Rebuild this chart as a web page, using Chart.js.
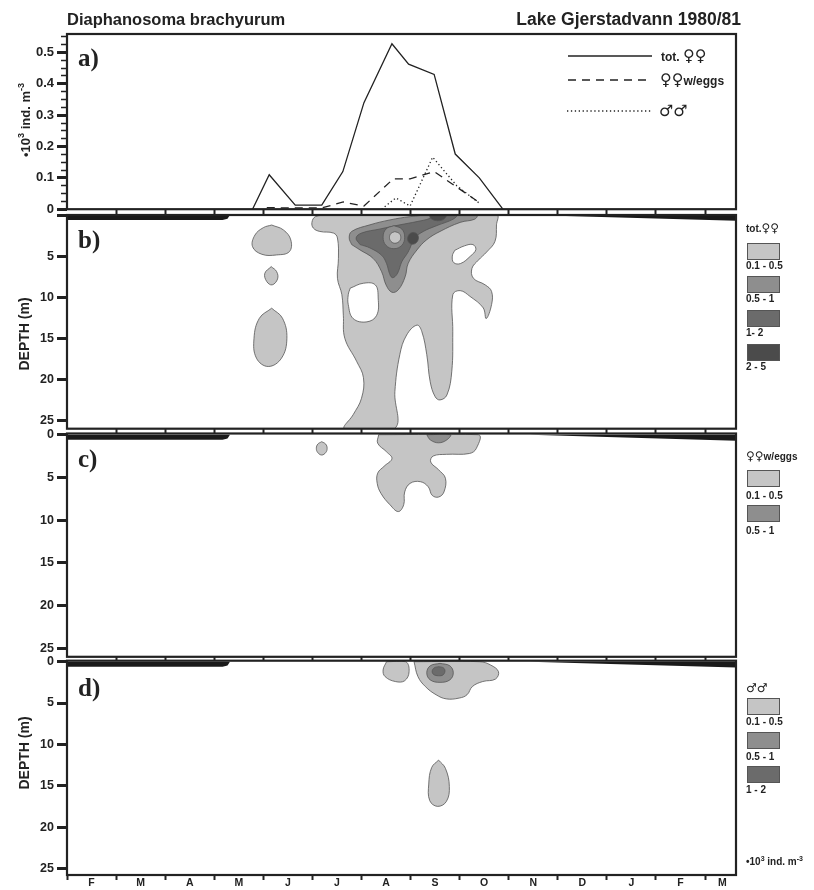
<!DOCTYPE html>
<html>
<head>
<meta charset="utf-8">
<script src="https://cdn.jsdelivr.net/npm/chart.js@4.4.1/dist/chart.umd.min.js"></script>
<style>
  body { margin: 0; background: #fff; }
  #page { position: relative; width: 814px; height: 890px; overflow: hidden;
    font-family: "Liberation Sans", "DejaVu Sans", Arial, sans-serif; color: #222; }
  canvas { position: absolute; left: 0; }
  .txt { position: absolute; white-space: nowrap; font-weight: bold; }
  .sym { font-family: "DejaVu Sans", sans-serif; }
  .panel { position: absolute; font-family: "Liberation Serif", "DejaVu Serif", serif;
    font-weight: bold; font-size: 25px; line-height: 26px; }
  .ytitle { position: absolute; font-weight: bold; white-space: nowrap;
    transform: translate(-50%, -50%) rotate(-90deg); }
  .box { position: absolute; left: 747px; width: 31px; height: 15px; border: 1px solid #555; }
  .lab { position: absolute; left: 746px; font-size: 10px; line-height: 12px; font-weight: bold; white-space: nowrap; }
  sup { font-size: 70%; line-height: 0; }
</style>
</head>
<body>
<div id="page">
  <canvas id="chartA" width="814" height="220" style="top:0px"></canvas>
  <canvas id="chartB" width="814" height="240" style="top:200px"></canvas>
  <canvas id="chartC" width="814" height="250" style="top:420px"></canvas>
  <canvas id="chartD" width="814" height="240" style="top:650px"></canvas>

  <div class="txt" style="left:67px;top:9px;font-size:16.5px;line-height:20px">Diaphanosoma brachyurum</div>
  <div class="txt" style="right:73px;top:9px;font-size:17.5px;line-height:20px">Lake Gjerstadvann 1980/81</div>

  <div class="panel" style="left:78px;top:45px">a)</div>
  <div class="panel" style="left:78px;top:227px">b)</div>
  <div class="panel" style="left:78px;top:446px">c)</div>
  <div class="panel" style="left:78px;top:675px">d)</div>

  <div class="ytitle" style="left:25px;top:120px;font-size:13px">&bull;10<sup>3</sup> ind. m<sup>-3</sup></div>
  <div class="ytitle" style="left:24px;top:334px;font-size:14px">DEPTH (m)</div>
  <div class="ytitle" style="left:24px;top:753px;font-size:14px">DEPTH (m)</div>

  <!-- legend of the line panel -->
  <svg width="814" height="140" style="position:absolute;left:0;top:0">
    <line x1="568" y1="56" x2="652" y2="56" stroke="#222" stroke-width="1.5"/>
    <line x1="568" y1="80" x2="652" y2="80" stroke="#222" stroke-width="1.5" stroke-dasharray="8 6"/>
    <line x1="567" y1="111" x2="651" y2="111" stroke="#222" stroke-width="1.3" stroke-dasharray="1.3 2.6"/>
  </svg>
  <div class="txt" style="left:661px;top:46px;font-size:12px;line-height:20px">tot. <span class="sym" style="font-size:16px">♀♀</span></div>
  <div class="txt" style="left:660px;top:70px;font-size:12px;line-height:20px"><span class="sym" style="font-size:16px">♀♀</span>w/eggs</div>
  <div class="txt" style="left:659px;top:101px;font-size:12px;line-height:20px"><span class="sym" style="font-size:16px">♂♂</span></div>

  <!-- contour legends -->
  <div class="lab" style="top:222px">tot.<span class="sym" style="font-size:12px">♀♀</span></div>
  <div class="box" style="top:243px;background:#c5c5c5"></div>
  <div class="lab" style="top:260px">0.1 - 0.5</div>
  <div class="box" style="top:276px;background:#8e8e8e"></div>
  <div class="lab" style="top:293px">0.5 - 1</div>
  <div class="box" style="top:310px;background:#6b6b6b"></div>
  <div class="lab" style="top:327px">1- 2</div>
  <div class="box" style="top:344px;background:#4b4b4b"></div>
  <div class="lab" style="top:361px">2 - 5</div>

  <div class="lab" style="top:450px"><span class="sym" style="font-size:12px">♀♀</span>w/eggs</div>
  <div class="box" style="top:470px;background:#c5c5c5"></div>
  <div class="lab" style="top:490px">0.1 - 0.5</div>
  <div class="box" style="top:505px;background:#8e8e8e"></div>
  <div class="lab" style="top:525px">0.5 - 1</div>

  <div class="lab" style="top:682px"><span class="sym" style="font-size:12px">♂♂</span></div>
  <div class="box" style="top:698px;background:#c5c5c5"></div>
  <div class="lab" style="top:716px">0.1 - 0.5</div>
  <div class="box" style="top:732px;background:#8e8e8e"></div>
  <div class="lab" style="top:751px">0.5 - 1</div>
  <div class="box" style="top:766px;background:#6b6b6b"></div>
  <div class="lab" style="top:784px">1 - 2</div>
  <div class="lab" style="top:856px">&bull;10<sup>3</sup> ind. m<sup>-3</sup></div>
</div>

<script>
// time axis: months counted from 1 Feb 1980
var monthLabels = ['F', 'M', 'A', 'M', 'J', 'J', 'A', 'S', 'O', 'N', 'D', 'J', 'F', 'M'];
var monthLabelPos = [0.5, 1.5, 2.5, 3.5, 4.5, 5.5, 6.5, 7.5, 8.5, 9.5, 10.5, 11.5, 12.5, 13.35];
var monthTicks = [1, 2, 3, 4, 5, 6, 7, 8, 9, 10, 11, 12, 13];
var monthTicksBottom = [0, 1, 2, 3, 4, 5, 6, 7, 8, 9, 10, 11, 12, 13];
var xMax = 13.63;

var densTicks = [0, 0.025, 0.05, 0.075, 0.1, 0.125, 0.15, 0.175, 0.2, 0.225, 0.25, 0.275,
  0.3, 0.325, 0.35, 0.375, 0.4, 0.425, 0.45, 0.475, 0.5, 0.525, 0.55];
var depthTicks = [0, 5, 10, 15, 20, 25];

// a) whole water column, 10^3 ind. m-3
var totDates = [3.78, 4.12, 4.65, 5.19, 5.62, 6.05, 6.62, 6.96, 7.48, 7.91, 8.40, 8.88];
var totFemales = [0, 0.11, 0.013, 0.013, 0.12, 0.34, 0.528, 0.463, 0.43, 0.176, 0.10, 0];
var eggDates = [4.07, 4.65, 5.19, 5.63, 6.05, 6.65, 6.99, 7.48, 7.90, 8.43];
var eggFemales = [0.005, 0.004, 0.004, 0.023, 0.01, 0.097, 0.097, 0.12, 0.075, 0.018];
var maleDates = [6.41, 6.70, 6.99, 7.45, 7.94, 8.41];
var males = [0, 0.036, 0.01, 0.166, 0.075, 0.018];

// ice cover (thickness in m)
var iceSpring = [[0, 0.6], [3.17, 0.6], [3.27, 0.45], [3.32, 0]];
var iceWinter = [[9.43, 0], [13.63, 0.7]];

var levelColors = ['#c5c5c5', '#8e8e8e', '#6b6b6b', '#4b4b4b'];

// b) tot. females, isolines [month, depth]
var bLowA = [[4.17, 1.22], [4.41, 1.82], [4.56, 3.04], [4.53, 4.46], [4.27, 4.86], [3.97, 4.78], [3.78, 3.85], [3.83, 2.43], [4.00, 1.54]];
var bLowB = [[4.16, 6.28], [4.27, 6.88], [4.29, 7.78], [4.18, 8.5], [4.07, 8.1], [4.03, 7.1]];
var bLowC = [[4.17, 11.34], [4.39, 12.56], [4.48, 14.99], [4.37, 17.42], [4.10, 18.43], [3.86, 17.42], [3.81, 14.99], [3.92, 12.56]];
var bLowMain = [[5.29, 0], [5.06, 0.2], [4.99, 0.9], [5.02, 1.6], [5.15, 2.0], [5.43, 2.2], [5.51, 2.8], [5.53, 5.3],
  [5.51, 7.7], [5.60, 9.7], [5.63, 12.2], [5.66, 15.0], [5.90, 17.8], [6.04, 19.8], [6.00, 22.3], [5.83, 24.3],
  [5.66, 26], [6.67, 26], [6.68, 21.5], [6.78, 17.0], [6.92, 14.6], [7.13, 13.4], [7.23, 14.2], [7.33, 17.0],
  [7.40, 20.3], [7.50, 22.1], [7.60, 22.5], [7.74, 21.9], [7.84, 19.0], [7.86, 14.2], [7.86, 9.7], [8.01, 9.2],
  [8.21, 9.9], [8.48, 11.3], [8.54, 12.6], [8.65, 10.9], [8.65, 9.3], [8.52, 8.5], [8.28, 7.7], [8.25, 6.5],
  [8.38, 5.5], [8.55, 4.5], [8.72, 3.2], [8.75, 1.2], [8.75, 0]];
var bHoleA = [[5.77, 8.9], [6.04, 8.3], [6.28, 8.5], [6.34, 10.1], [6.31, 12.2], [6.11, 13.0], [5.83, 12.6], [5.73, 10.9], [5.73, 9.7]];
var bHoleB = [[7.90, 4.3], [8.10, 3.75], [8.27, 3.6], [8.33, 4.2], [8.22, 5.0], [8.02, 5.9], [7.88, 5.8], [7.85, 5.0]];
var bMid = [[5.80, 3.6], [5.75, 2.8], [5.80, 2.0], [6.17, 1.2], [6.58, 0.6], [6.99, 0.2], [7.40, 0], [8.35, 0],
  [8.31, 0.5], [8.01, 0.9], [7.60, 2.0], [7.33, 3.0], [7.13, 4.25], [6.95, 5.9], [6.89, 7.5], [6.75, 9.1],
  [6.62, 9.4], [6.50, 8.5], [6.41, 6.9], [6.24, 5.3], [5.97, 4.25]];
var bHigh = [[5.97, 3.6], [5.89, 2.8], [6.00, 2.2], [6.38, 1.7], [6.78, 1.2], [7.13, 0.8], [7.40, 0.4], [7.46, 0],
  [7.94, 0], [7.87, 0.5], [7.53, 1.3], [7.26, 2.0], [7.09, 2.8], [6.95, 4.5], [6.82, 5.7], [6.75, 6.9],
  [6.68, 7.5], [6.62, 7.6], [6.57, 7.1], [6.51, 5.9], [6.41, 4.9], [6.17, 4.0]];
var bRing = [[6.66, 1.3], [6.82, 1.7], [6.88, 2.7], [6.82, 3.7], [6.66, 4.1], [6.50, 3.7], [6.44, 2.7], [6.50, 1.7]];
var bCore = [[6.68, 2.02], [6.77, 2.25], [6.80, 2.73], [6.77, 3.2], [6.68, 3.44], [6.60, 3.2], [6.57, 2.73], [6.60, 2.25]];
var bPeakA = [[7.05, 2.11], [7.13, 2.3], [7.16, 2.8], [7.12, 3.35], [7.03, 3.56], [6.96, 3.3], [6.94, 2.8], [6.98, 2.3]];
var bPeakB = [[7.38, 0], [7.42, 0.45], [7.55, 0.69], [7.68, 0.5], [7.72, 0]];

// c) females with eggs
var cLowA = [[5.19, 0.82], [5.27, 1.1], [5.30, 1.6], [5.27, 2.1], [5.19, 2.38], [5.11, 2.1], [5.08, 1.6], [5.11, 1.1]];
var cLowMain = [[6.35, 0], [6.33, 1.0], [6.51, 2.0], [6.62, 2.8], [6.46, 3.7], [6.33, 4.5], [6.32, 5.7], [6.40, 6.9],
  [6.58, 8.2], [6.75, 9.0], [6.86, 8.2], [6.88, 6.7], [6.99, 5.7], [7.20, 5.5], [7.36, 6.1], [7.44, 7.1],
  [7.57, 7.3], [7.68, 6.7], [7.71, 5.1], [7.57, 4.1], [7.41, 3.2], [7.46, 2.5], [7.73, 2.3], [8.20, 2.2],
  [8.34, 1.6], [8.38, 0]];
var cMid = [[7.33, 0], [7.40, 0.6], [7.57, 0.95], [7.74, 0.6], [7.81, 0]];

// d) males
var dLowA = [[6.51, 0], [6.90, 0], [6.97, 1.2], [6.88, 2.3], [6.69, 2.4], [6.48, 1.8], [6.44, 1.0]];
var dLowMain = [[7.07, 0], [7.15, 1.8], [7.30, 3.0], [7.52, 4.0], [7.73, 4.5], [7.99, 4.4], [8.15, 4.0], [8.26, 3.0],
  [8.47, 2.4], [8.73, 2.1], [8.79, 1.2], [8.63, 0.4], [8.41, 0]];
var dLowDeep = [[7.57, 11.9], [7.71, 12.9], [7.79, 15.1], [7.73, 16.9], [7.55, 17.5], [7.39, 16.8], [7.37, 14.8], [7.43, 12.8]];
var dMid = [[7.60, 0.2], [7.80, 0.5], [7.87, 1.35], [7.80, 2.2], [7.60, 2.5], [7.40, 2.2], [7.33, 1.35], [7.40, 0.5]];
var dHigh = [[7.57, 0.6], [7.67, 0.75], [7.70, 1.15], [7.66, 1.6], [7.57, 1.7], [7.47, 1.55], [7.44, 1.15], [7.48, 0.75]];

Chart.defaults.font.family = "'Liberation Sans', Arial, sans-serif";
Chart.defaults.color = '#222';

function pairs(xs, ys) {
  return xs.map(function (x, i) { return { x: x, y: ys[i] }; });
}

// closed isoline, filled with its class colour
function blob(pts, color) {
  var d = pts.map(function (p) { return { x: p[0], y: p[1] }; });
  d.push({ x: pts[0][0], y: pts[0][1] });
  return { data: d, fill: 'shape', backgroundColor: color, borderColor: '#555', borderWidth: 0.8,
    tension: 0.4, pointRadius: 0 };
}

function ice(pts) {
  return { data: pts.map(function (p) { return { x: p[0], y: p[1] }; }), fill: 'origin',
    backgroundColor: '#1a1a1a', borderWidth: 0, pointRadius: 0, tension: 0 };
}

// chart.js paints dataset 0 last, so list them bottom-up and flip
function layers(list) {
  return list.slice().reverse();
}

function fixWidth(s) { s.width = 67; }

// frame round the plot area
var framePlugin = {
  id: 'frame',
  afterDraw: function (chart) {
    var a = chart.chartArea, ctx = chart.ctx;
    ctx.save();
    ctx.strokeStyle = '#222';
    ctx.lineWidth = 2.2;
    ctx.strokeRect(a.left, a.top, a.right - a.left, a.bottom - a.top);
    ctx.restore();
  }
};

function monthAxis(pos, ticks, len, height) {
  return {
    type: 'linear', position: pos, min: 0, max: xMax,
    afterBuildTicks: function (s) { s.ticks = ticks.map(function (v) { return { value: v }; }); },
    afterFit: function (s) { s.height = height; },
    ticks: { display: false },
    grid: { drawOnChartArea: false, tickLength: len, tickWidth: 2, tickColor: '#222' },
    border: { display: false }
  };
}

function depthAxis(min, max, hideZero) {
  return {
    type: 'linear', reverse: true, min: min, max: max,
    afterFit: fixWidth,
    afterBuildTicks: function (s) { s.ticks = depthTicks.map(function (v) { return { value: v }; }); },
    ticks: {
      padding: 3, color: '#222', font: { size: 12.5, weight: 'bold' }, autoSkip: false,
      callback: function (v) { return (hideZero && v === 0) ? '' : String(v); }
    },
    grid: { drawOnChartArea: false, tickLength: 10, tickWidth: 3, tickColor: '#222' },
    border: { display: false }
  };
}

function isMajor(v) { return Math.abs(v * 10 - Math.round(v * 10)) < 1e-6; }

var common = {
  responsive: false, animation: false, events: [],
  plugins: { legend: { display: false }, tooltip: { enabled: false } }
};

function opts(padding, scales) {
  return Object.assign({}, common, { layout: { padding: padding }, scales: scales });
}

// a) numbers in the water column
new Chart(document.getElementById('chartA'), {
  type: 'line',
  data: {
    datasets: [
      { data: pairs(totDates, totFemales), borderColor: '#222', borderWidth: 1.3, pointRadius: 0, fill: false, tension: 0 },
      { data: pairs(eggDates, eggFemales), borderColor: '#222', borderWidth: 1.3, borderDash: [8, 6], pointRadius: 0, fill: false, tension: 0 },
      { data: pairs(maleDates, males), borderColor: '#222', borderWidth: 1.3, borderDash: [1.3, 2.6], pointRadius: 0, fill: false, tension: 0 }
    ]
  },
  options: opts({ top: 34, bottom: 6, left: 0, right: 78 }, {
    x: { type: 'linear', min: 0, max: xMax, display: false },
    y: {
      type: 'linear', min: 0, max: 0.559,
      afterFit: fixWidth,
      afterBuildTicks: function (s) { s.ticks = densTicks.map(function (v) { return { value: v }; }); },
      ticks: {
        padding: 3, color: '#222', font: { size: 13, weight: 'bold' }, autoSkip: false,
        callback: function (v) { return isMajor(v) ? (v === 0 ? '0' : v.toFixed(1)) : ''; }
      },
      grid: {
        drawOnChartArea: false, tickLength: 10, tickColor: '#222',
        tickWidth: function (c) { return isMajor(c.tick.value) ? 3 : 1.6; },
        tickBorderDash: function (c) { return isMajor(c.tick.value) ? [] : [0, 4, 6, 30]; }
      },
      border: { display: false }
    }
  }),
  plugins: [framePlugin]
});

// b) tot. females
new Chart(document.getElementById('chartB'), {
  type: 'line',
  data: {
    datasets: layers([
      blob(bLowA, levelColors[0]), blob(bLowB, levelColors[0]), blob(bLowC, levelColors[0]),
      blob(bLowMain, levelColors[0]), blob(bHoleA, '#fff'), blob(bHoleB, '#fff'),
      blob(bMid, levelColors[1]), blob(bHigh, levelColors[2]), blob(bRing, levelColors[1]),
      blob(bCore, levelColors[0]), blob(bPeakA, levelColors[3]), blob(bPeakB, levelColors[3]),
      ice(iceSpring), ice(iceWinter)
    ])
  },
  options: opts({ top: 10, bottom: 6.3, left: 0, right: 78 }, {
    x: monthAxis('top', monthTicks, 5, 5),
    xBot: monthAxis('bottom', monthTicks, 5, 5),
    y: depthAxis(0, 26, true)
  }),
  plugins: [framePlugin]
});

// c) females with eggs
new Chart(document.getElementById('chartC'), {
  type: 'line',
  data: {
    datasets: layers([
      blob(cLowA, levelColors[0]), blob(cLowMain, levelColors[0]), blob(cMid, levelColors[1]),
      ice(iceSpring), ice(iceWinter)
    ])
  },
  options: opts({ top: 13.5, bottom: 9.2, left: 0, right: 78 }, {
    x: monthAxis('bottom', monthTicks, 4, 4),
    y: depthAxis(-0.14, 26, false)
  }),
  plugins: [framePlugin]
});

// d) males
new Chart(document.getElementById('chartD'), {
  type: 'line',
  data: {
    datasets: layers([
      blob(dLowA, levelColors[0]), blob(dLowMain, levelColors[0]), blob(dLowDeep, levelColors[0]),
      blob(dMid, levelColors[1]), blob(dHigh, levelColors[2]),
      ice(iceSpring), ice(iceWinter)
    ])
  },
  options: opts({ top: 10.7, bottom: 0, left: 0, right: 78 }, {
    x: monthAxis('bottom', monthTicksBottom, 5, 3),
    xLab: {
      type: 'linear', position: 'bottom', min: 0, max: xMax,
      afterBuildTicks: function (s) { s.ticks = monthLabelPos.map(function (v) { return { value: v }; }); },
      afterFit: function (s) { s.height = 12; },
      ticks: {
        padding: -1, autoSkip: false, maxRotation: 0, color: '#222', font: { size: 10.5, weight: 'bold' },
        callback: function (v, i) { return monthLabels[i]; }
      },
      grid: { display: false, drawTicks: false },
      border: { display: false }
    },
    y: depthAxis(-0.12, 25.8, false)
  }),
  plugins: [framePlugin]
});
</script>
</body>
</html>
